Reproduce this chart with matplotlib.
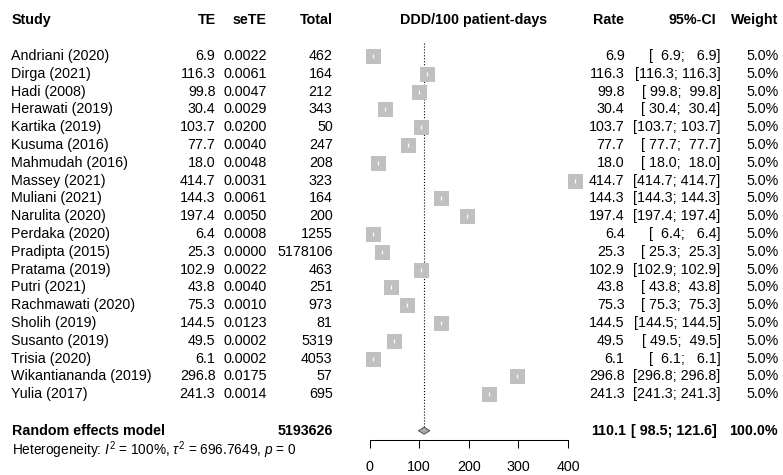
import numpy as np
import matplotlib.pyplot as plt

plt.rcParams['font.family'] = ['Liberation Sans', 'DejaVu Sans']
plt.rcParams['mathtext.fontset'] = 'custom'
plt.rcParams['mathtext.rm'] = 'Liberation Sans'
plt.rcParams['mathtext.it'] = 'Liberation Sans:italic'
plt.rcParams['mathtext.bf'] = 'Liberation Sans:bold'

# data
studies = ['Andriani (2020)', 'Dirga (2021)', 'Hadi (2008)', 'Herawati (2019)',
           'Kartika (2019)', 'Kusuma (2016)', 'Mahmudah (2016)', 'Massey (2021)',
           'Muliani (2021)', 'Narulita (2020)', 'Perdaka (2020)', 'Pradipta (2015)',
           'Pratama (2019)', 'Putri (2021)', 'Rachmawati (2020)', 'Sholih (2019)',
           'Susanto (2019)', 'Trisia (2020)', 'Wikantiananda (2019)', 'Yulia (2017)']
te = [6.9, 116.3, 99.8, 30.4, 103.7, 77.7, 18.0, 414.7, 144.3, 197.4,
      6.4, 25.3, 102.9, 43.8, 75.3, 144.5, 49.5, 6.1, 296.8, 241.3]
sete = [0.0022, 0.0061, 0.0047, 0.0029, 0.0200, 0.0040, 0.0048, 0.0031, 0.0061, 0.0050,
        0.0008, 0.0000, 0.0022, 0.0040, 0.0010, 0.0123, 0.0002, 0.0002, 0.0175, 0.0014]
total = [462, 164, 212, 343, 50, 247, 208, 323, 164, 200,
         1255, 5178106, 463, 251, 973, 81, 5319, 4053, 57, 695]
weight = [5.0] * 20

pooled = 110.1
pooled_lo = 98.5
pooled_hi = 121.6
pooled_total = 5193626
pooled_weight = 100.0
het_text = r"Heterogeneity: $I^2$ = 100%, $\tau^2$ = 696.7649, $p$ = 0"
xticks = [0, 100, 200, 300, 400]

W, H = 783, 475
row0, dy = 56, 17.8


def px2row(y):
    return (y - row0) / dy


fs = 10.3
fig = plt.figure(figsize=(W / 100, H / 100), dpi=100)
ax = fig.add_axes([0, 0, 1, 1])
ax.set_xlim(0, W)
ax.set_ylim(px2row(H), px2row(0))
ax.axis('off')

# forest panel
x0, x1, yaxis = 369.5, 568, 440
fax = fig.add_axes([x0 / W, (H - yaxis) / H, (x1 - x0) / W, yaxis / H])
fax.set_xlim(0, 400)
fax.set_ylim(px2row(yaxis), px2row(0))
fax.patch.set_visible(False)
for s in ['top', 'left', 'right']:
    fax.spines[s].set_visible(False)
fax.spines['bottom'].set_linewidth(0.75)
fax.set_yticks([])
fax.set_xticks(xticks)
fax.tick_params(axis='x', length=5.8, width=0.75, pad=8.5, labelsize=fs)

rows = np.arange(len(studies))
r_pool = 21.05

fax.plot([pooled, pooled], [-0.75, r_pool - 0.22], ls=':', color='black', lw=0.8)
fax.scatter(te, rows, marker='s', s=10.8 ** 2, c='#C0C0C0', linewidths=0,
            clip_on=False, zorder=3)
fax.scatter(te, rows, marker='|', s=8, c='white', linewidths=0.9,
            clip_on=False, zorder=4)
fax.fill([pooled_lo, pooled, pooled_hi, pooled],
         [r_pool, r_pool - 0.2, r_pool, r_pool + 0.2],
         facecolor='#A8A8A8', edgecolor='#444444', lw=0.6, zorder=3, clip_on=False)

# header
hdr = -2.0
ax.text(12, hdr, 'Study', ha='left', va='center', fontsize=fs, fontweight='bold')
ax.text(215.5, hdr, 'TE', ha='right', va='center', fontsize=fs, fontweight='bold')
ax.text(266.7, hdr, 'seTE', ha='right', va='center', fontsize=fs, fontweight='bold')
ax.text(332.7, hdr, 'Total', ha='right', va='center', fontsize=fs, fontweight='bold')
ax.text(474, hdr, 'DDD/100 patient-days', ha='center', va='center', fontsize=fs, fontweight='bold')
ax.text(624.5, hdr, 'Rate', ha='right', va='center', fontsize=fs, fontweight='bold')
ax.text(716, hdr, '95%-CI', ha='right', va='center', fontsize=fs, fontweight='bold')
ax.text(778.5, hdr, 'Weight', ha='right', va='center', fontsize=fs, fontweight='bold')

for i, name in enumerate(studies):
    ax.text(11, i, name, ha='left', va='center', fontsize=fs)
    ax.text(215.5, i, f'{te[i]:.1f}', ha='right', va='center', fontsize=fs)
    ax.text(266.7, i, f'{sete[i]:.4f}', ha='right', va='center', fontsize=fs)
    ax.text(332.7, i, f'{total[i]}', ha='right', va='center', fontsize=fs)
    ax.text(624.5, i, f'{te[i]:.1f}', ha='right', va='center', fontsize=fs)
    ax.text(720.5, i, f'[{te[i]:>5.1f}; {te[i]:>5.1f}]', ha='right', va='center', fontsize=fs)
    ax.text(779, i, f'{weight[i]:.1f}%', ha='right', va='center', fontsize=fs)

ax.text(12, r_pool, 'Random effects model', ha='left', va='center', fontsize=fs, fontweight='bold')
ax.text(332.7, r_pool, f'{pooled_total}', ha='right', va='center', fontsize=fs, fontweight='bold')
ax.text(626, r_pool, f'{pooled:.1f}', ha='right', va='center', fontsize=fs, fontweight='bold')
ax.text(717, r_pool, f'[{pooled_lo:>5.1f}; {pooled_hi:>5.1f}]', ha='right', va='center',
        fontsize=fs, fontweight='bold')
ax.text(778, r_pool, f'{pooled_weight:.1f}%', ha='right', va='center', fontsize=fs, fontweight='bold')
ax.text(12, 22.15, het_text, ha='left', va='center', fontsize=9.8)

fig.savefig('out.png', dpi=100)
